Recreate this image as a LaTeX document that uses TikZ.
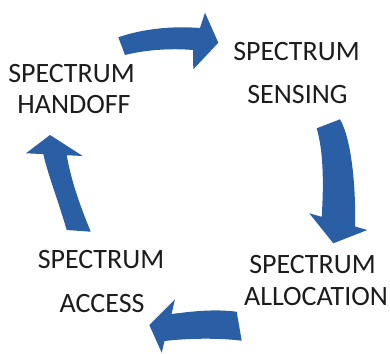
\documentclass[tikz,border=0pt]{standalone}
\usepackage{fontspec}
\setmainfont{Carlito}
\definecolor{cycleblue}{HTML}{2B5FA5}
\definecolor{labelink}{HTML}{1C1C1C}
\begin{document}
\begin{tikzpicture}[x=1pt,y=-1pt,
  lbl/.style={anchor=base,inner sep=0pt,text=labelink,font=\fontsize{28}{32}\selectfont},
  bluearrow/.style={fill=cycleblue,draw=none}]
\useasboundingbox (0,0) rectangle (390,353);

% stage labels
\node[lbl] (hand1) at (71.5,82) {SPECTRUM};
\node[lbl] (hand2) at (74,113) {HANDOFF};
\node[lbl] (sens1) at (296.5,60) {SPECTRUM};
\node[lbl] (sens2) at (297.5,103) {SENSING};
\node[lbl] (alloc1) at (312.5,273) {SPECTRUM};
\node[lbl] (alloc2) at (316,305) {ALLOCATION};
\node[lbl] (acc1) at (101,268) {SPECTRUM};
\node[lbl] (acc2) at (102,312) {ACCESS};

% curved block arrows of the cycle
% handoff -> sensing
\fill[bluearrow] (118.3,37.3) .. controls (145,28) and (175,26) .. (200,28)
  -- (205,12.7) -- (218.3,42.7) -- (193.3,69.3) -- (193,50)
  .. controls (170,48) and (145,50) .. (125,55) -- cycle;
% sensing -> allocation
\fill[bluearrow] (316.7,128.3) -- (340,119.3)
  .. controls (352,140) and (356,190) .. (355,226.5)
  -- (367.3,230) -- (333.3,243.3) -- (309.3,213.3) -- (321.7,216.8)
  .. controls (324,180) and (323,150) .. (316.7,128.3) -- cycle;
% allocation -> access
\fill[bluearrow] (236.7,311.7) .. controls (215,309) and (195,311) .. (171.5,314)
  -- (175,299.3) -- (149.3,325) -- (161.7,352.7) -- (164.5,341)
  .. controls (190,338) and (220,338) .. (241.7,340.7) -- cycle;
% access -> handoff
\fill[bluearrow] (66.7,230) .. controls (58,200) and (48,175) .. (43.3,154.1)
  -- (26,153.3) -- (50,135) -- (82.7,156) -- (66.7,155.2)
  .. controls (72,185) and (82,210) .. (90.7,231.7) -- cycle;
\end{tikzpicture}
\end{document}
